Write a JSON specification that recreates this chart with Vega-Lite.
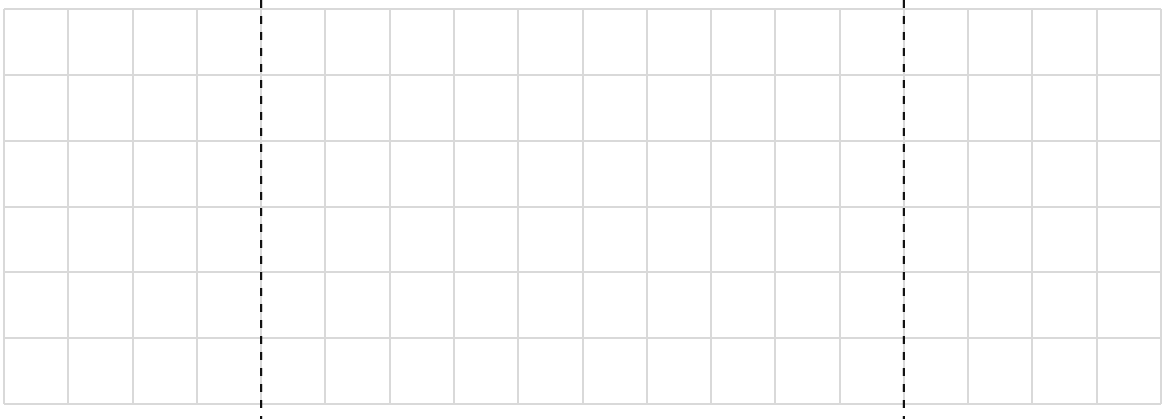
{
  "$schema": "https://vega.github.io/schema/vega-lite/v6.json",
  "width": 1157,
  "height": 395,
  "autosize": "none",
  "padding": {"left": 4, "top": 9, "right": 3, "bottom": 15},
  "background": "white",
  "config": {"view": {"stroke": null}, "axis": {"translate": 0}},
  "datasets": {
    "rules": [
      {"x": 4, "y": 6.137, "y2": -0.5},
      {"x": 14, "y": 6.137, "y2": -0.5}
    ]
  },
  "data": {"name": "rules"},
  "mark": {"type": "rule", "color": "#111111", "strokeWidth": 2.2, "strokeDash": [8, 8], "clip": false},
  "encoding": {
    "x": {
      "field": "x", "type": "quantitative",
      "scale": {"domain": [0, 18], "nice": false, "zero": false},
      "axis": {"values": [0,1,2,3,4,5,6,7,8,9,10,11,12,13,14,15,16,17,18], "grid": true, "gridColor": "#d9d9d9", "gridWidth": 2, "labels": false, "ticks": false, "domain": false, "title": null}
    },
    "y": {
      "field": "y", "type": "quantitative",
      "scale": {"domain": [0, 6], "nice": false, "zero": false},
      "axis": {"values": [0,1,2,3,4,5,6], "grid": true, "gridColor": "#d9d9d9", "gridWidth": 2, "labels": false, "ticks": false, "domain": false, "title": null}
    },
    "y2": {"field": "y2"}
  }
}
